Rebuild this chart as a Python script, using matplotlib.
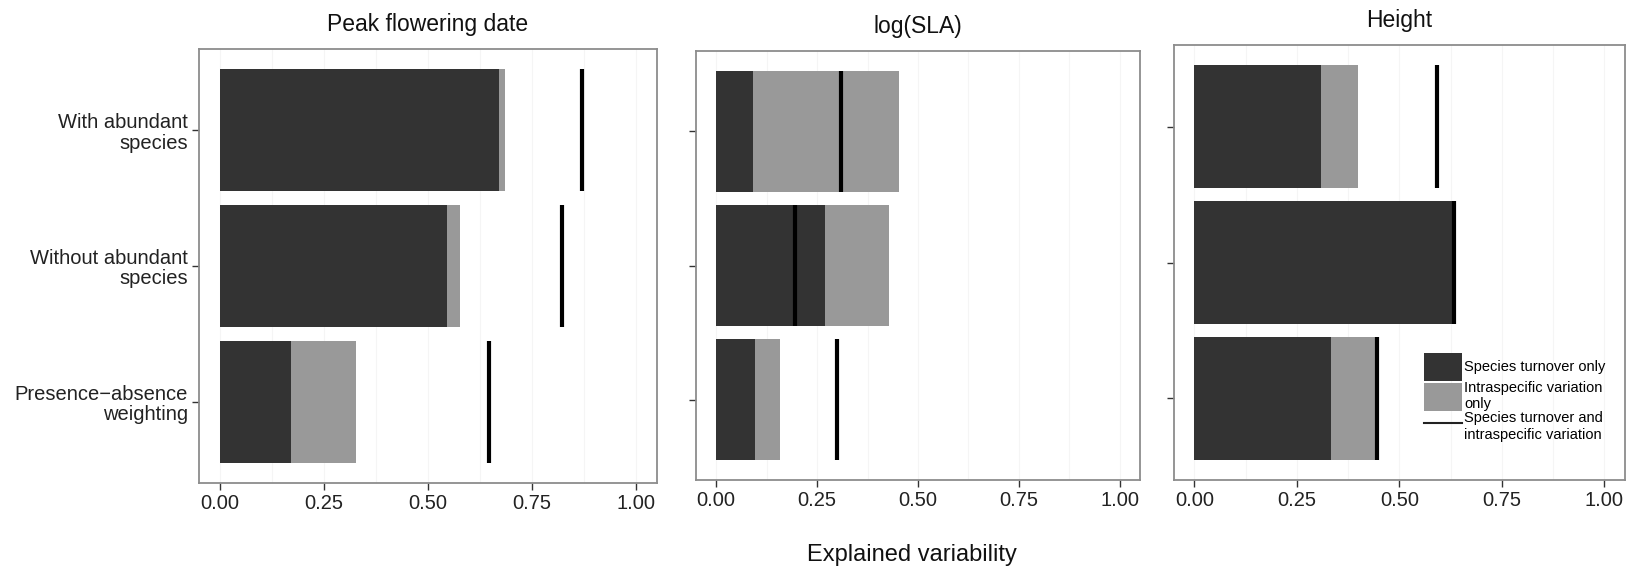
import numpy as np
import matplotlib
matplotlib.use('Agg')
import matplotlib.pyplot as plt
from matplotlib.patches import Patch
from matplotlib.lines import Line2D

plt.rcParams['font.family'] = ['Liberation Sans', 'DejaVu Sans']

# data
traits = ['Peak flowering date', 'log(SLA)', 'Height']
scenarios = ['With abundant\nspecies', 'Without abundant\nspecies',
             'Presence\u2212absence\nweighting']
turnover_only = [[0.670, 0.546, 0.172],
                 [0.091, 0.270, 0.095],
                 [0.309, 0.629, 0.332]]
intra_only = [[0.016, 0.030, 0.154],
              [0.362, 0.157, 0.064],
              [0.091, 0.000, 0.111]]
turnover_and_intra = [[0.870, 0.822, 0.647],
                      [0.308, 0.196, 0.300],
                      [0.591, 0.632, 0.445]]
x_ticks = [0.0, 0.25, 0.5, 0.75, 1.0]
x_ticklabels = ['0.00', '0.25', '0.50', '0.75', '1.00']

dark = '#333333'
grey = '#999999'
W, H = 1633, 570

fig = plt.figure(figsize=(W / 100, H / 100), dpi=100)

# panel boxes in pixels: left, top, right, bottom
boxes = [(199, 49, 657, 483), (696, 51, 1140, 480), (1174, 45, 1625, 480)]

y = np.arange(len(scenarios))
bar_h = 0.9
for i, (l, t, r, b) in enumerate(boxes):
    ax = fig.add_axes([l / W, 1 - b / H, (r - l) / W, (b - t) / H])
    ax.set_axisbelow(True)
    ax.barh(y, turnover_only[i], height=bar_h, color=dark, zorder=2)
    ax.barh(y, intra_only[i], left=turnover_only[i], height=bar_h,
            color=grey, zorder=2)
    ax.vlines(turnover_and_intra[i], y - bar_h / 2, y + bar_h / 2,
              color='black', lw=3, zorder=3)

    ax.set_xlim(-0.05, 1.05)
    ax.set_ylim(len(scenarios) - 0.4, -0.6)
    ax.set_xticks(x_ticks)
    ax.set_xticklabels(x_ticklabels, fontsize=14.5, color='#222222')
    ax.set_xticks([0.125, 0.375, 0.625, 0.875], minor=True)
    ax.set_yticks(y)
    if i == 0:
        ax.set_yticklabels(scenarios, fontsize=14.5, color='#222222',
                           linespacing=1.1)
    else:
        ax.set_yticklabels([])
    ax.tick_params(axis='both', which='major', length=5, width=1,
                   color='#333333', pad=3)
    ax.tick_params(axis='x', which='minor', length=0)
    ax.grid(True, which='both', axis='x', color='#f5f5f5', lw=0.8)
    for s in ax.spines.values():
        s.set_color('#8c8c8c')
        s.set_linewidth(1.3)
    ax.set_title(traits[i], fontsize=16.5, pad=13, color='#111111')

    if i == 2:
        handles = [Patch(facecolor=dark, edgecolor='none'),
                   Patch(facecolor=grey, edgecolor='none'),
                   Line2D([], [], color='#222222', lw=1.5)]
        labels = ['Species turnover only', 'Intraspecific variation\nonly',
                  'Species turnover and\nintraspecific variation']
        ax.legend(handles, labels, loc='lower left',
                  bbox_to_anchor=(0.554, 0.088), frameon=False, fontsize=10.5,
                  handlelength=2.6, handleheight=2.6, labelspacing=0,
                  handletextpad=0.15, borderpad=0, borderaxespad=0)

fig.text(912 / W, 1 - 555 / H, 'Explained variability', fontsize=17,
         ha='center', va='center', color='#111111')

fig.savefig('out.png', dpi=100)
